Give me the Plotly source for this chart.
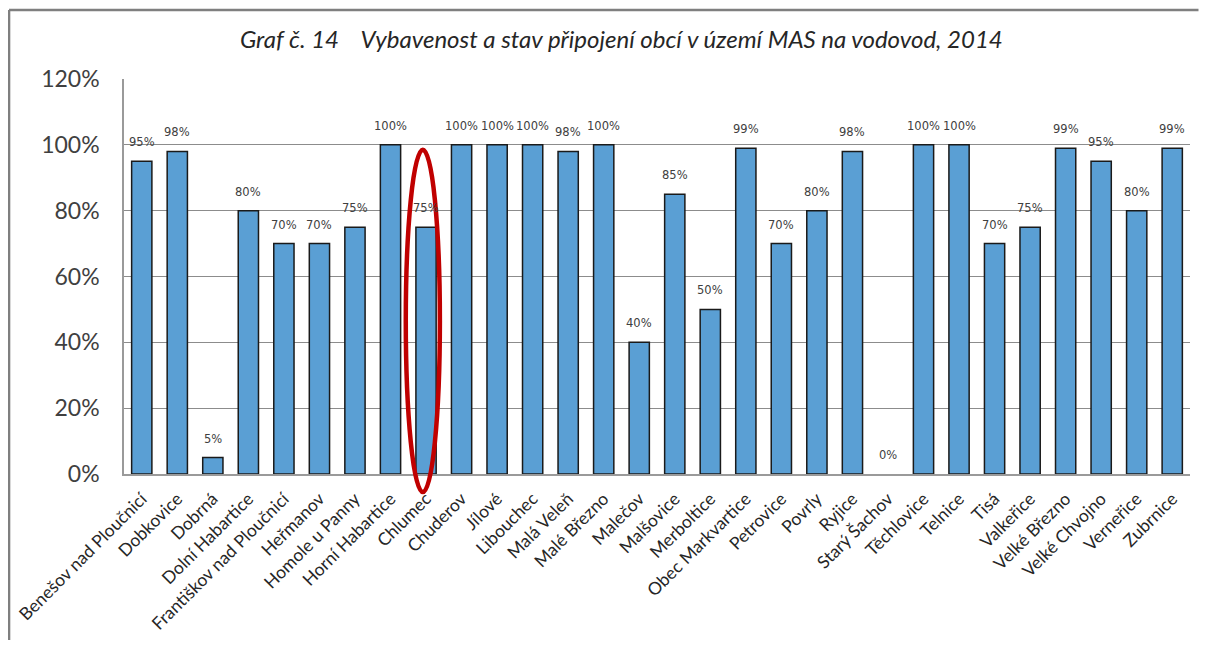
import plotly.graph_objects as go

categories = ["Benešov nad Ploučnicí", "Dobkovice", "Dobrná", "Dolní Habartice",
              "Františkov nad Ploučnicí", "Heřmanov", "Homole u Panny", "Horní Habartice",
              "Chlumec", "Chuderov", "Jílové", "Libouchec", "Malá Veleň", "Malé Březno",
              "Malečov", "Malšovice", "Merboltice", "Obec Markvartice", "Petrovice", "Povrly",
              "Ryjice", "Starý Šachov", "Těchlovice", "Telnice", "Tisá", "Valkeřice",
              "Velké Březno", "Velké Chvojno", "Verneřice", "Zubrnice"]
values = [0.95, 0.98, 0.05, 0.80, 0.70, 0.70, 0.75, 1.00, 0.75, 1.00, 1.00, 1.00, 0.98, 1.00,
          0.40, 0.85, 0.50, 0.99, 0.70, 0.80, 0.98, 0.00, 1.00, 1.00, 0.70, 0.75, 0.99, 0.95,
          0.80, 0.99]
y_ticks = [0, 0.2, 0.4, 0.6, 0.8, 1.0, 1.2]
title_text = "Graf č. 14\u00a0\u00a0\u00a0\u00a0Vybavenost a stav připojení obcí v území MAS na vodovod, 2014"
highlight = "Chlumec"

# page body has an 8px margin on every side; keep the figure inside the window
OFF = 8
W, H = 1207 - 2 * OFF, 648 - 2 * OFF
L, T = 124 - OFF, 79 - OFF
plot_right, plot_bottom = 1190.5 - OFF, 474 - OFF
R, B = W - plot_right, H - plot_bottom
pw, ph = W - L - R, H - T - B
YMAX = 1.2

fig = go.Figure()
fig.add_trace(go.Bar(
    x=categories, y=values,
    marker=dict(color="#5A9FD4",
                line=dict(color="#1a1a1a", width=[1.5 if v > 0 else 0 for v in values])),
    width=0.57, hoverinfo="x+y",
))

for c, v in zip(categories, values):
    fig.add_annotation(x=c, y=v, text=f"{round(v*100)}%", showarrow=False,
                       yshift=19, font=dict(family="DejaVu Sans", size=11.5, color="#404040"))

fig.add_annotation(xref="paper", yref="paper", x=(622 - OFF - L) / pw,
                   y=(plot_bottom - (22 - OFF)) / ph,
                   text=f"<i>{title_text}</i>", showarrow=False,
                   font=dict(family="Lato", size=24, color="#262626"))

# outer frame: only top and left edges are visible in the page
fx0 = (9 - OFF - L) / pw
fx1 = (W - L) / pw
fy1 = (plot_bottom - (10 - OFF)) / ph
fy0 = -(B) / ph
frame = dict(color="#7f7f7f", width=2.5)
fig.add_shape(type="line", xref="paper", yref="paper", x0=fx0, x1=fx1, y0=fy1, y1=fy1,
              line=frame, layer="below")
fig.add_shape(type="line", xref="paper", yref="paper", x0=fx0, x1=fx0, y0=fy1, y1=fy0,
              line=frame, layer="below")

# red ellipse around highlighted bar
hi = categories.index(highlight)
fig.add_shape(type="circle", xref="x", yref="paper",
              x0=hi - 0.57, x1=hi + 0.39,
              y0=-0.055 / YMAX, y1=(values[hi] + 0.235) / YMAX,
              line=dict(color="#C00000", width=4.5))

fig.update_layout(
    width=W, height=H,
    margin=dict(l=L, r=R, t=T, b=B, pad=0),
    plot_bgcolor="white", paper_bgcolor="white",
    showlegend=False, bargap=0.43,
)
fig.update_xaxes(showline=True, linecolor="#9a9a9a", linewidth=1.5, tickangle=-45,
                 tickfont=dict(family="Lato", size=17.5, color="#262626"),
                 ticks="", showgrid=False, mirror=False, automargin=False,
                 ticklabelstandoff=6)
fig.update_yaxes(range=[0, YMAX], tickvals=y_ticks, tickformat=".0%",
                 showline=True, linecolor="#9a9a9a", linewidth=1.5,
                 gridcolor="#8c8c8c", gridwidth=1, zeroline=False,
                 tickfont=dict(family="Lato", size=23, color="#404040"),
                 ticklabelstandoff=18, automargin=False)

fig.write_html("out.html")
